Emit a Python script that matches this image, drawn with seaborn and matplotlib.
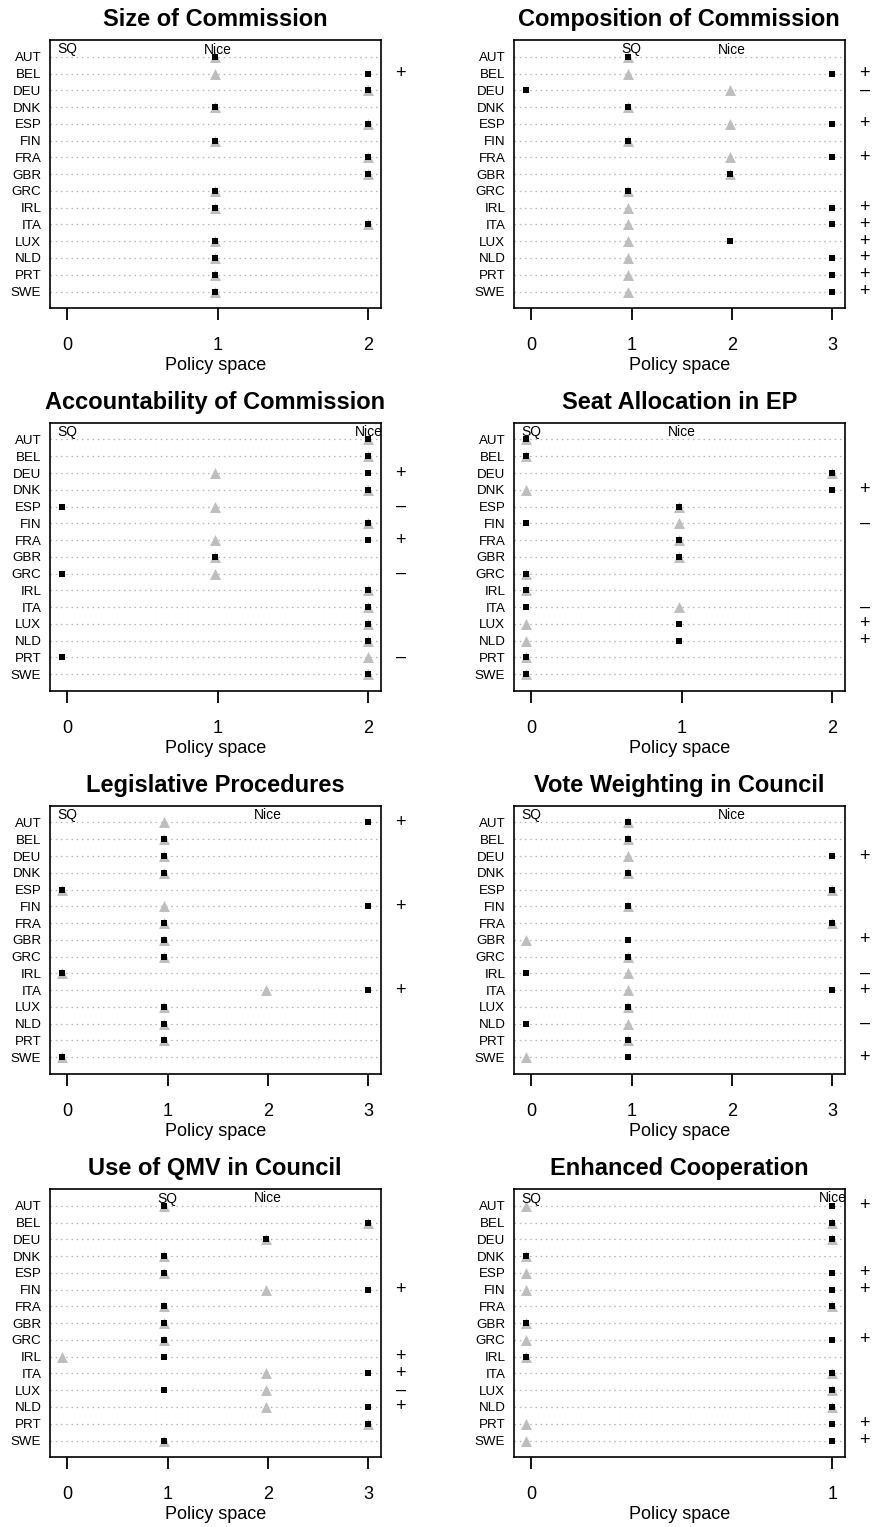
import numpy as np
import pandas as pd
import matplotlib
matplotlib.use("Agg")
import matplotlib.pyplot as plt
import seaborn as sns

# ---------------------------------------------------------------- data
countries = ["AUT", "BEL", "DEU", "DNK", "ESP", "FIN", "FRA", "GBR",
             "GRC", "IRL", "ITA", "LUX", "NLD", "PRT", "SWE"]

titles = ["Size of Commission", "Composition of Commission",
          "Accountability of Commission", "Seat Allocation in EP",
          "Legislative Procedures", "Vote Weighting in Council",
          "Use of QMV in Council", "Enhanced Cooperation"]

scale_max = [2, 3, 2, 2, 3, 3, 3, 1]   # top of each policy scale
sq_point = [0, 1, 0, 0, 0, 0, 1, 0]    # status quo on each scale
nice_point = [1, 2, 2, 1, 2, 2, 2, 1]  # Nice outcome on each scale

# initial positions (grey triangles)
initial_size = [1, 1, 2, 1, 2, 1, 2, 2, 1, 1, 2, 1, 1, 1, 1]
initial_comp = [1, 1, 2, 1, 2, 1, 2, 2, 1, 1, 1, 1, 1, 1, 1]
initial_acc = [2, 2, 1, 2, 1, 2, 1, 1, 1, 2, 2, 2, 2, 2, 2]
initial_seat = [0, 0, 2, 0, 1, 1, 1, 1, 0, 0, 1, 0, 0, 0, 0]
initial_legis = [1, 1, 1, 1, 0, 1, 1, 1, 1, 0, 2, 1, 1, 1, 0]
initial_vote = [1, 1, 1, 1, 3, 1, 3, 0, 1, 1, 1, 1, 1, 1, 0]
initial_qmv = [1, 3, 2, 1, 1, 2, 1, 1, 1, 0, 2, 2, 2, 3, 1]
initial_enh = [0, 1, 1, 0, 0, 0, 1, 0, 0, 0, 1, 1, 1, 0, 0]

# final positions (black squares)
final_size = [1, 2, 2, 1, 2, 1, 2, 2, 1, 1, 2, 1, 1, 1, 1]
final_comp = [1, 3, 0, 1, 3, 1, 3, 2, 1, 3, 3, 2, 3, 3, 3]
final_acc = [2, 2, 2, 2, 0, 2, 2, 1, 0, 2, 2, 2, 2, 0, 2]
final_seat = [0, 0, 2, 2, 1, 0, 1, 1, 0, 0, 0, 1, 1, 0, 0]
final_legis = [3, 1, 1, 1, 0, 3, 1, 1, 1, 0, 3, 1, 1, 1, 0]
final_vote = [1, 1, 3, 1, 3, 1, 3, 1, 1, 0, 3, 1, 0, 1, 1]
final_qmv = [1, 3, 2, 1, 1, 3, 1, 1, 1, 1, 3, 1, 3, 3, 1]
final_enh = [1, 1, 1, 0, 1, 1, 1, 0, 1, 0, 1, 1, 1, 1, 1]

initial_all = [initial_size, initial_comp, initial_acc, initial_seat,
               initial_legis, initial_vote, initial_qmv, initial_enh]
final_all = [final_size, final_comp, final_acc, final_seat,
             final_legis, final_vote, final_qmv, final_enh]

# ---------------------------------------------------------------- style
sns.set_style("white")
plt.rcParams["font.family"] = ["Liberation Sans", "DejaVu Sans"]
plt.rcParams.update({
    "axes.linewidth": 1.2,
    "text.color": "black",
    "axes.labelcolor": "black",
    "xtick.color": "black",
    "ytick.color": "black",
    "axes.edgecolor": "black",
})

W, H = 874, 1527
fig = plt.figure(figsize=(W / 100, H / 100), dpi=100)

col_left = [49.7, 513.7]
row_top = [40, 422.7, 805.7, 1189]
box_w, box_h = 331.0, 268.3
PX = 0.72  # points per pixel at 100 dpi

GREY = "#bebebe"
INSET = 0.018  # tick inset at the low end of each scale

n = len(countries)
ypos = np.arange(n, 0, -1)

for p in range(8):
    r, c = divmod(p, 2)
    x0 = col_left[c] / W
    y0 = 1 - (row_top[r] + box_h) / H
    ax = fig.add_axes([x0, y0, box_w / W, box_h / H])
    M = scale_max[p]

    df = pd.DataFrame({"country": countries, "y": ypos,
                       "initial": initial_all[p], "final": final_all[p]})

    # dotted guide line for every country
    for yy in ypos:
        ax.axhline(yy, color="#b4b4b4", lw=0.9, ls=(0, (1.2, 3.0)), zorder=0)

    sns.scatterplot(data=df, x="initial", y="y", marker="^", s=62,
                    color=GREY, linewidth=0, ax=ax, zorder=2, legend=False)
    sns.scatterplot(data=df, x="final", y="y", marker="s", s=13,
                    color="black", linewidth=0, ax=ax, zorder=3, legend=False)

    ax.set_xlim(-0.04 * M, 1.04 * M)
    ax.set_ylim(0, n + 1)

    ticks = [k + INSET * (M - k) for k in range(M + 1)]
    ax.set_xticks(ticks, labels=[str(k) for k in range(M + 1)])
    ax.set_yticks(ypos, labels=countries)
    ax.tick_params(axis="x", direction="out", length=8.6, width=1.3,
                   pad=12, labelsize=13, bottom=True, colors="black")
    ax.tick_params(axis="y", length=0, pad=6.0, labelsize=9.6,
                   colors="black")
    ax.set_xlabel("")
    ax.set_ylabel("")
    for sp in ax.spines.values():
        sp.set_color("black")
        sp.set_linewidth(1.2)

    # reference points on the scale
    for lbl, v in (("SQ", sq_point[p]), ("Nice", nice_point[p])):
        ax.annotate(lbl, xy=(v + INSET * (M - v), 1),
                    xycoords=("data", "axes fraction"),
                    xytext=(0, -13.5 * PX), textcoords="offset points",
                    ha="center", va="baseline", fontsize=10, color="black")

    # direction of change for each country
    diff = np.sign(np.array(final_all[p]) - np.array(initial_all[p]))
    for yy, d in zip(ypos, diff):
        if d == 0:
            continue
        ax.annotate("+" if d > 0 else "\u2013", xy=(1, yy),
                    xycoords=("axes fraction", "data"),
                    xytext=(20 * PX, 0), textcoords="offset points",
                    ha="center", va="center", fontsize=13, color="black",
                    annotation_clip=False)

    ax.annotate(titles[p], xy=(0.5, 1), xycoords="axes fraction",
                xytext=(0, 14 * PX), textcoords="offset points",
                ha="center", va="baseline", fontsize=17, fontweight="bold",
                color="black")
    ax.annotate("Policy space", xy=(0.5, 0), xycoords="axes fraction",
                xytext=(0, -57.5 * PX), textcoords="offset points",
                ha="center", va="center", fontsize=13, color="black")

fig.savefig("out.png", dpi=100)
